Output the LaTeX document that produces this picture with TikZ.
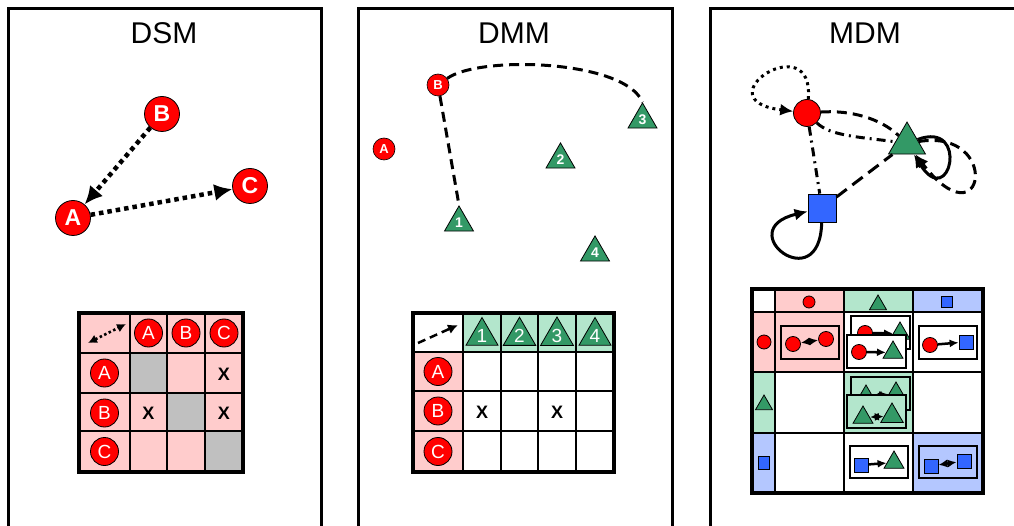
\documentclass[tikz,border=0pt]{standalone}
\usepackage{fontspec}
\setmainfont{Liberation Sans}
\usetikzlibrary{arrows.meta,shapes.geometric}
\definecolor{nred}{RGB}{255,0,0}
\definecolor{ngreen}{RGB}{51,153,102}
\definecolor{nblue}{RGB}{51,102,255}
\definecolor{lpink}{RGB}{255,204,204}
\definecolor{lgreen}{RGB}{179,230,204}
\definecolor{lblue}{RGB}{180,199,255}
\definecolor{lgray}{RGB}{192,192,192}
\tikzset{
  panel/.style={line width=3pt},
  title/.style={font=\fontsize{30}{32}\selectfont},
  bignode/.style={circle, fill=nred, draw=black, line width=0.8pt, inner sep=0pt, minimum size=35pt, text=white, font=\fontsize{23}{23}\selectfont\bfseries},
  smallnode/.style={circle, fill=nred, draw=black, line width=0.6pt, inner sep=0pt, minimum size=22pt, text=white, font=\fontsize{13}{13}\selectfont\bfseries},
  hdrnode/.style={circle, fill=nred, draw=black, line width=0.8pt, inner sep=0pt, minimum size=28pt, text=white, font=\fontsize{19}{19}\selectfont},
  tri/.style={regular polygon, regular polygon sides=3, fill=ngreen, draw=black, line width=0.8pt, inner sep=0pt, text=white},
  sq/.style={rectangle, fill=nblue, draw=black, line width=0.8pt, inner sep=0pt},
  mdot/.style={circle, fill=nred, draw=black, line width=0.8pt, inner sep=0pt},
  xmark/.style={font=\fontsize{18}{18}\selectfont\bfseries},
  dotarrow/.style={line width=4.5pt, dash pattern=on 4.5pt off 4pt, -{Latex[length=18pt,width=17pt]}},
  dmmdash/.style={line width=3pt, dash pattern=on 10pt off 6pt},
  grid/.style={line width=2pt},
  outer/.style={line width=4pt},
  box/.style={draw=black, line width=1.5pt},
  sarrow/.style={line width=2.5pt, -{Latex[length=9pt,width=8pt]}},
  dsarrow/.style={line width=2.5pt, {Latex[length=9pt,width=8pt]}-{Latex[length=9pt,width=8pt]}},
  loopsolid/.style={line width=3pt, -{Latex[length=13pt,width=12pt]}},
  trinum/.style={font=\fontsize{14}{14}\selectfont\bfseries},
}
\begin{document}
\begin{tikzpicture}[x=1pt,y=-1pt]
\useasboundingbox (0,0) rectangle (1014,526);
\clip (0,0) rectangle (1014,526);

% ---------- panels ----------
\draw[panel] (8,540) -- (8,9) -- (321,9) -- (321,540);
\draw[panel] (358,540) -- (358,9) -- (672,9) -- (672,540);
\draw[panel] (710,540) -- (710,9) -- (1030,9);
\node[title] (tdsm) at (164,33) {DSM};
\node[title] (tdmm) at (514,33) {DMM};
\node[title] (tmdm) at (865,33) {MDM};

% ---------- DSM graph ----------
\node[bignode] (gB) at (162,114) {B};
\node[bignode] (gA) at (73,218) {A};
\node[bignode] (gC) at (250,186) {C};
\draw[dotarrow] (gB) -- (gA);
\draw[dotarrow] (gA) -- (gC);

% ---------- DSM matrix ----------
\fill[lpink] (79,313) rectangle (243,472);
\fill[lgray] (130,353) rectangle (167,393);
\fill[lgray] (167,393) rectangle (205,431);
\fill[lgray] (205,431) rectangle (243,472);
\foreach \x in {130,167,205} \draw[grid] (\x,313) -- (\x,472);
\foreach \y in {353,393,431} \draw[grid] (79,\y) -- (243,\y);
\draw[outer] (79,313) rectangle (243,472);
\node[hdrnode] (sA) at (148.5,333) {A};
\node[hdrnode] (sB) at (186,333) {B};
\node[hdrnode] (sC) at (224,333) {C};
\node[hdrnode] (rA) at (104.5,373) {A};
\node[hdrnode] (rB) at (104.5,413) {B};
\node[hdrnode] (rC) at (104.5,451.5) {C};
\node[xmark] (x1) at (224,374) {X};
\node[xmark] (x2) at (148.5,413) {X};
\node[xmark] (x3) at (224,413) {X};
\coordinate (da1) at (88,343);
\coordinate (da2) at (126,324);
\draw[line width=2.5pt, dash pattern=on 2.5pt off 2.5pt, {Latex[length=9pt,width=9pt]}-{Latex[length=9pt,width=9pt]}] (da1) -- (da2);

% ---------- DMM graph ----------
\node[smallnode] (dB) at (438,85) {B};
\node[smallnode] (dA) at (384,149) {A};
\node[tri, minimum size=33.5pt, trinum] (t1) at (459,222.7) {1};
\node[tri, minimum size=33.5pt, trinum] (t2) at (560.5,159.7) {2};
\node[tri, minimum size=33.5pt, trinum] (t3) at (642.5,119.7) {3};
\node[tri, minimum size=33.5pt, trinum] (t4) at (595,252.7) {4};
\draw[dmmdash] (dB) -- (t1.corner 1);
\draw[dmmdash] (dB) .. controls (480,55) and (625,60) .. (t3.corner 1);

% ---------- DMM matrix ----------
\fill[lgreen] (463,313) rectangle (614,352);
\fill[lpink] (413,352) rectangle (463,472);
\foreach \x in {463,501,538,576} \draw[grid] (\x,313) -- (\x,472);
\foreach \y in {352,391,431} \draw[grid] (413,\y) -- (614,\y);
\draw[outer] (413,313) rectangle (614,472);
\node[tri, minimum size=35.8pt, font=\fontsize{19}{19}\selectfont] (h1) at (482,336) {1};
\node[tri, minimum size=35.8pt, font=\fontsize{19}{19}\selectfont] (h2) at (519.5,336) {2};
\node[tri, minimum size=35.8pt, font=\fontsize{19}{19}\selectfont] (h3) at (557,336) {3};
\node[tri, minimum size=35.8pt, font=\fontsize{19}{19}\selectfont] (h4) at (595,336) {4};
\node[hdrnode] (qA) at (438,371.5) {A};
\node[hdrnode] (qB) at (438,411) {B};
\node[hdrnode] (qC) at (438,451.5) {C};
\node[xmark] (x4) at (482,412) {X};
\node[xmark] (x5) at (557,412) {X};
\coordinate (db1) at (418,343);
\coordinate (db2) at (458,325);
\draw[line width=2.5pt, dash pattern=on 8pt off 5pt, -{Latex[length=10pt,width=10pt]}] (db1) -- (db2);

% ---------- MDM graph ----------
\node[mdot, minimum size=27pt] (mc) at (807,113) {};
\node[tri, minimum size=42.7pt] (mt) at (907,143.4) {};
\node[sq, minimum size=28pt] (ms) at (822,208) {};
\draw[line width=3pt, dash pattern=on 3pt off 4pt, -{Latex[length=13pt,width=12pt]}] (mc) .. controls (815,25) and (700,100) .. (mc);
\draw[line width=3pt, dash pattern=on 10pt off 6pt] (mc) .. controls (850,110) and (880,118) .. (mt);
\draw[line width=3pt, dash pattern=on 9pt off 5pt on 2pt off 5pt] (mc) .. controls (830,136) and (860,137) .. (mt);
\draw[line width=3pt, dash pattern=on 9pt off 5pt on 2pt off 5pt] (mc) -- (ms);
\draw[line width=3pt, dash pattern=on 13pt off 7pt] (ms) -- (mt);
\draw[loopsolid] (mt) .. controls (970,120) and (950,212) .. (mt);
\draw[line width=3pt, dash pattern=on 10pt off 6pt, -{Latex[length=13pt,width=12pt]}] (mt) .. controls (1002,128) and (985,245) .. (mt);
\draw[loopsolid] (ms) .. controls (820,300) and (730,230) .. (ms);

% ---------- MDM matrix ----------
\fill[lpink] (775,289) rectangle (844,312);
\fill[lgreen] (844,289) rectangle (913,312);
\fill[lblue] (913,289) rectangle (983,312);
\fill[lpink] (752,312) rectangle (775,372);
\fill[lgreen] (752,372) rectangle (775,433);
\fill[lblue] (752,433) rectangle (775,493);
\fill[lpink] (775,312) rectangle (844,372);
\fill[lgreen] (844,372) rectangle (913,433);
\fill[lblue] (913,433) rectangle (983,493);
\foreach \x in {775,844,913} \draw[grid] (\x,289) -- (\x,493);
\foreach \y in {312,372,433} \draw[grid] (752,\y) -- (983,\y);
\draw[outer] (752,289) rectangle (983,493);
% headers
\node[mdot, minimum size=12pt] (hc) at (809,302) {};
\node[tri, minimum size=19.6pt] (ht) at (878,304.8) {};
\node[sq, minimum size=11pt] (hs) at (947,302) {};
\node[mdot, minimum size=14pt] (vc) at (764,342) {};
\node[tri, minimum size=19.6pt] (vt) at (764,404.8) {};
\node[sq, minimum width=11pt, minimum height=13pt] (vs) at (764,463) {};
% cell (1,1)
\filldraw[box, fill=lpink] (781,326) rectangle (839,359);
\node[mdot, minimum size=15pt] (a11) at (793,344) {};
\node[mdot, minimum size=15pt] (b11) at (826,339) {};
\draw[dsarrow] (a11) -- (b11);
% cell (1,2) back
\filldraw[box, fill=white] (851,316) rectangle (910,349);
\node[mdot, minimum size=15pt] (a12b) at (865,333) {};
\node[tri, minimum size=23pt] (b12b) at (900,333.5) {};
\draw[sarrow] (a12b) -- (b12b);
% cell (1,2) front
\filldraw[box, fill=white] (847,335) rectangle (906,368);
\node[mdot, minimum size=15pt] (a12) at (859,352) {};
\node[tri, minimum size=23pt] (b12) at (893,352.5) {};
\draw[sarrow] (a12) -- (b12);
% cell (1,3)
\filldraw[box, fill=white] (919,326) rectangle (977,359);
\node[mdot, minimum size=15pt] (a13) at (930,345) {};
\node[sq, minimum size=14pt] (b13) at (966,342) {};
\draw[sarrow] (a13) -- (b13);
% cell (2,2) back
\filldraw[box, fill=lgreen] (851,377) rectangle (910,410);
\node[tri, minimum size=23pt] (a22b) at (866,396.5) {};
\node[tri, minimum size=23pt] (b22b) at (896,393.5) {};
\draw[dsarrow] (a22b) -- (b22b);
% cell (2,2) front
\filldraw[box, fill=lgreen] (847,395) rectangle (906,428);
\node[tri, minimum size=23pt] (a22) at (863,417.5) {};
\node[tri, minimum size=26pt] (b22) at (892,416) {};
\draw[dsarrow] (a22) -- (b22);
% cell (3,2)
\filldraw[box, fill=white] (850,446) rectangle (908,478);
\node[sq, minimum size=14pt] (a32) at (861,465) {};
\node[tri, minimum size=23pt] (b32) at (894,462.5) {};
\draw[sarrow] (a32) -- (b32);
% cell (3,3)
\filldraw[box, fill=lblue] (919,446) rectangle (977,478);
\node[sq, minimum size=14pt] (a33) at (931,466) {};
\node[sq, minimum size=14pt] (b33) at (964,461) {};
\draw[dsarrow] (a33) -- (b33);
\end{tikzpicture}
\end{document}
